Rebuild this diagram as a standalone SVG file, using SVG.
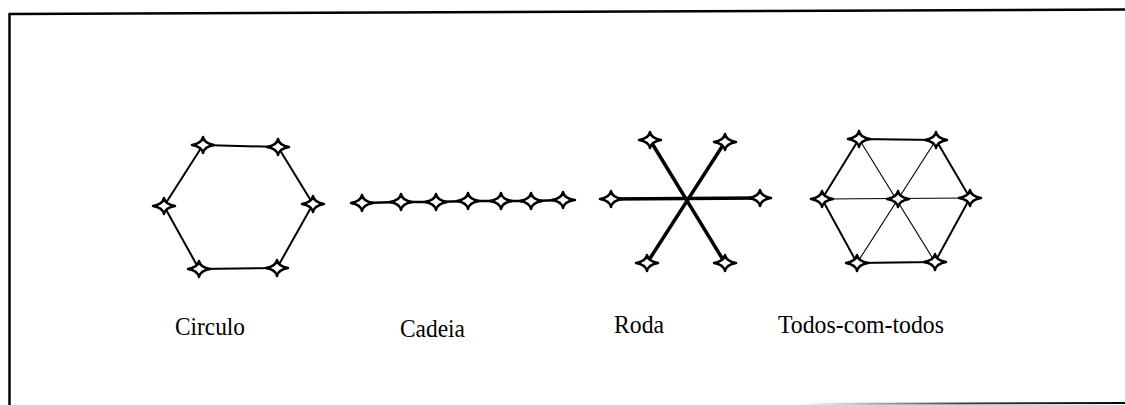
<svg xmlns="http://www.w3.org/2000/svg" width="1125" height="405" viewBox="0 0 1125 405">
  <defs>
    <!-- four-pointed star used for every node -->
    <path id="star" d="M -11,0 Q -1.4,-1.4 0,-8 Q 1.4,-1.4 11,0 Q 1.4,1.4 0,8 Q -1.4,1.4 -11,0 Z"/>
    <linearGradient id="fade" x1="0" y1="0" x2="1" y2="0">
      <stop offset="0" stop-color="#fff"/>
      <stop offset="0.5" stop-color="#444"/>
      <stop offset="1" stop-color="#000"/>
    </linearGradient>
  </defs>
  <style>
    .node use { fill: #fff; stroke: #000; stroke-width: 2.5; stroke-linejoin: round; }
    .edge { stroke: #000; fill: none; stroke-linecap: round; }
    .w2 { stroke-width: 2; }
    .w25 { stroke-width: 2.5; }
    .w35 { stroke-width: 3.5; }
    .w1 { stroke-width: 1.1; }
    .label { font-family: "Liberation Serif", "Times New Roman", serif; font-size: 26px; fill: #000; }
  </style>
  <rect width="1125" height="405" fill="#fff"/>

  <!-- frame -->
  <g id="frame" fill="none">
    <line x1="9" y1="14" x2="1125" y2="9.5" stroke="#000" stroke-width="2.5"/>
    <line x1="9.5" y1="13" x2="9.5" y2="405" stroke="#000" stroke-width="2.5"/>
    <line x1="800" y1="404" x2="1125" y2="403" stroke="url(#fade)" stroke-width="2"/>
  </g>

  <!-- connectors -->
  <g id="connectors">
    <!-- Circulo -->
    <polygon class="edge w2" points="203,145 278,147 313,204 277,268 199,269 164,206"/>
    <!-- Cadeia -->
    <polyline class="edge w25" points="352,203 362,203 401,202 436,202 468,201 501,201 531,201 563,200 575,200"/>
    <!-- Roda -->
    <line class="edge w35" x1="611" y1="199" x2="760" y2="198"/>
    <line class="edge w35" x1="650" y1="140" x2="725" y2="263"/>
    <line class="edge w35" x1="725" y1="142" x2="647" y2="263"/>
    <!-- Todos-com-todos: outer ring -->
    <polygon class="edge w2" points="859,139 936,140 970,198 935,262 857,263 822,199"/>
    <!-- Todos-com-todos: spokes -->
    <line class="edge w1" x1="822" y1="199" x2="970" y2="198"/>
    <line class="edge w1" x1="859" y1="139" x2="935" y2="262"/>
    <line class="edge w1" x1="936" y1="140" x2="857" y2="263"/>
  </g>

  <!-- Circulo nodes -->
  <g id="circulo" class="node">
    <use href="#star" x="203" y="145"/>
    <use href="#star" x="278" y="147"/>
    <use href="#star" x="313" y="204"/>
    <use href="#star" x="277" y="268"/>
    <use href="#star" x="199" y="269"/>
    <use href="#star" x="164" y="206"/>
  </g>

  <!-- Cadeia nodes -->
  <g id="cadeia" class="node">
    <use href="#star" x="362" y="203"/>
    <use href="#star" x="401" y="202"/>
    <use href="#star" x="436" y="202"/>
    <use href="#star" x="468" y="201"/>
    <use href="#star" x="501" y="201"/>
    <use href="#star" x="531" y="201"/>
    <use href="#star" x="563" y="200"/>
  </g>

  <!-- Roda nodes -->
  <g id="roda" class="node">
    <use href="#star" x="650" y="140"/>
    <use href="#star" x="725" y="142"/>
    <use href="#star" x="611" y="199"/>
    <use href="#star" x="760" y="198"/>
    <use href="#star" x="647" y="263"/>
    <use href="#star" x="725" y="263"/>
  </g>

  <!-- Todos-com-todos nodes -->
  <g id="todos" class="node">
    <use href="#star" x="859" y="139"/>
    <use href="#star" x="936" y="140"/>
    <use href="#star" x="822" y="199"/>
    <use href="#star" x="898" y="199"/>
    <use href="#star" x="970" y="198"/>
    <use href="#star" x="857" y="263"/>
    <use href="#star" x="935" y="262"/>
  </g>

  <!-- labels (slightly condensed serif) -->
  <g id="labels">
    <text class="label" x="175" y="335" textLength="70" lengthAdjust="spacingAndGlyphs">Circulo</text>
    <text class="label" x="400" y="337" textLength="65" lengthAdjust="spacingAndGlyphs">Cadeia</text>
    <text class="label" x="614" y="333" textLength="50" lengthAdjust="spacingAndGlyphs">Roda</text>
    <text class="label" x="778" y="333" textLength="166" lengthAdjust="spacingAndGlyphs">Todos-com-todos</text>
  </g>
</svg>
